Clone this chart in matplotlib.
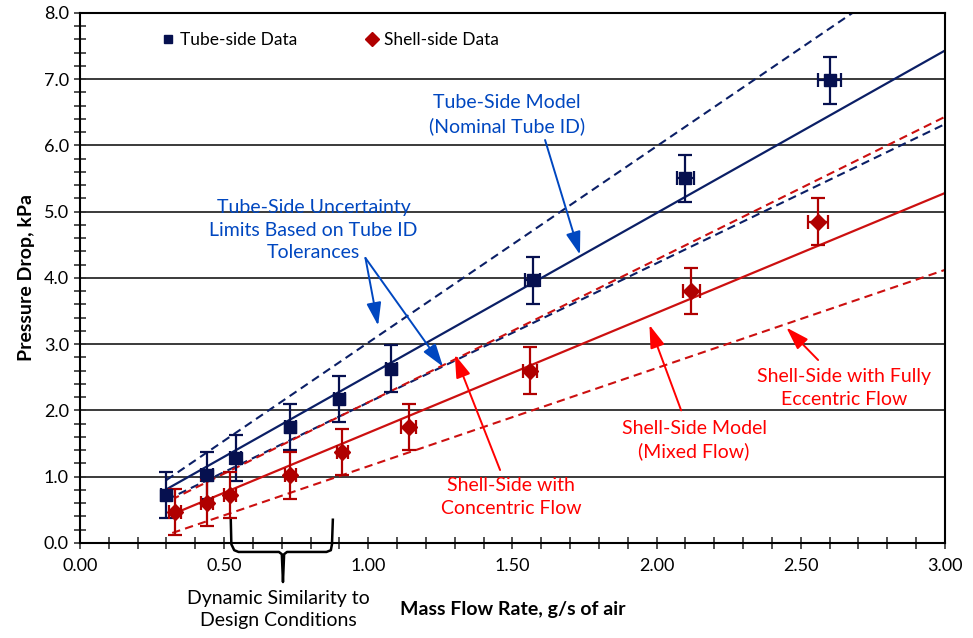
import matplotlib.pyplot as plt
import numpy as np
from matplotlib.ticker import MultipleLocator, FormatStrFormatter

plt.rcParams['font.family'] = ['Lato', 'DejaVu Sans']

# measured data
tube_x = [0.30, 0.44, 0.54, 0.73, 0.90, 1.08, 1.57, 2.10, 2.60]
tube_y = [0.72, 1.02, 1.28, 1.75, 2.17, 2.63, 3.96, 5.50, 6.98]
tube_xerr = [0.02, 0.02, 0.02, 0.02, 0.02, 0.02, 0.025, 0.03, 0.04]
tube_yerr = [0.35, 0.35, 0.35, 0.35, 0.35, 0.35, 0.35, 0.35, 0.35]

shell_x = [0.33, 0.44, 0.52, 0.73, 0.91, 1.14, 1.56, 2.12, 2.56]
shell_y = [0.47, 0.60, 0.72, 1.02, 1.37, 1.75, 2.60, 3.80, 4.85]
shell_xerr = [0.02, 0.02, 0.02, 0.02, 0.02, 0.025, 0.025, 0.03, 0.035]
shell_yerr = [0.35, 0.35, 0.35, 0.35, 0.35, 0.35, 0.35, 0.35, 0.35]

# model lines (end points)
tube_model_x = [0.30, 3.00]
tube_model_y = [0.81, 7.43]
tube_hi_x = [0.30, 2.68]
tube_hi_y = [0.95, 8.00]
tube_lo_x = [0.30, 3.00]
tube_lo_y = [0.65, 6.32]

shell_model_x = [0.33, 3.00]
shell_model_y = [0.45, 5.28]
shell_conc_x = [0.33, 3.00]
shell_conc_y = [0.68, 6.43]
shell_ecc_x = [0.32, 3.00]
shell_ecc_y = [0.15, 4.12]

navy = '#0B1F66'
navy_mk = '#06104F'
red_line = '#CC1010'
red_mk = '#B00000'
blue_txt = '#0047C0'
red_txt = '#FF0000'

fig = plt.figure(figsize=(9.73, 6.38), dpi=100)
ax = fig.add_axes([0.0822, 0.149, 0.889, 0.831])

ax.set_xlim(0, 3)
ax.set_ylim(0, 8)
ax.yaxis.grid(True, color='#3a3a3a', linewidth=1.4)
ax.set_axisbelow(True)

ax.plot(tube_hi_x, tube_hi_y, color=navy, lw=1.5, ls=(0, (4, 2.5)))
ax.plot(tube_lo_x, tube_lo_y, color=navy, lw=1.5, ls=(0, (4, 2.5)))
ax.plot(shell_conc_x, shell_conc_y, color=red_line, lw=1.5, ls=(2, (4, 2.5)))
ax.plot(shell_ecc_x, shell_ecc_y, color=red_line, lw=1.5, ls=(0, (4, 2.5)))
ax.plot(tube_model_x, tube_model_y, color=navy, lw=1.6)
ax.plot(shell_model_x, shell_model_y, color=red_line, lw=1.6)

ax.errorbar(tube_x, tube_y, xerr=tube_xerr, yerr=tube_yerr, fmt='s', color=navy_mk,
            ms=8, capsize=5, elinewidth=1.6, capthick=1.6, label='Tube-side Data', zorder=5)
ax.errorbar(shell_x, shell_y, xerr=shell_xerr, yerr=shell_yerr, fmt='D', color=red_mk,
            ms=8.5, capsize=5, elinewidth=1.6, capthick=1.6, label='Shell-side Data', zorder=5)

h, l = ax.get_legend_handles_labels()
h = [hh[0] for hh in h]
ax.legend(h, l, ncol=2, loc='center left', bbox_to_anchor=(0.095, 0.949), frameon=False,
          fontsize=12.5, handlelength=0.7, handletextpad=0.3, columnspacing=4.0,
          borderpad=0, borderaxespad=0, markerscale=0.8)

ax.xaxis.set_major_locator(MultipleLocator(0.5))
ax.xaxis.set_minor_locator(MultipleLocator(0.1))
ax.yaxis.set_major_locator(MultipleLocator(1))
ax.yaxis.set_minor_locator(MultipleLocator(0.2))
ax.xaxis.set_major_formatter(FormatStrFormatter('%.2f'))
ax.yaxis.set_major_formatter(FormatStrFormatter('%.1f'))
ax.tick_params(which='both', direction='inout', length=9, width=1.2, labelsize=13, color='#333333')
ax.tick_params(axis='x', which='major', pad=6)
for s in ax.spines.values():
    s.set_linewidth(1.5)

ax.set_xlabel('Mass Flow Rate, g/s of air', fontsize=14, fontweight='bold', labelpad=20)
ax.set_ylabel('Pressure Drop, kPa', fontsize=14, fontweight='bold', labelpad=6)

arrow_blue = dict(arrowstyle='-|>,head_length=1.4,head_width=0.45', color=blue_txt, lw=1.4,
                  shrinkA=0, shrinkB=0)
arrow_red = dict(arrowstyle='-|>,head_length=1.4,head_width=0.45', color=red_txt, lw=1.4,
                 shrinkA=0, shrinkB=0)
txt = dict(ha='center', va='center', fontsize=14, linespacing=1.4)

ax.text(1.48, 6.46, 'Tube-Side Model\n(Nominal Tube ID)', color=blue_txt, **txt)
ax.annotate('', xy=(1.734, 4.35), xytext=(1.613, 6.08), arrowprops=arrow_blue)

ax.text(0.81, 4.72, 'Tube-Side Uncertainty\nLimits Based on Tube ID\nTolerances', color=blue_txt, **txt)
ax.annotate('', xy=(1.034, 3.28), xytext=(0.99, 4.30), arrowprops=arrow_blue)
ax.annotate('', xy=(1.259, 2.66), xytext=(0.99, 4.30), arrowprops=arrow_blue)

ax.text(2.13, 1.55, 'Shell-Side Model\n(Mixed Flow)', color=red_txt, **txt)
ax.annotate('', xy=(1.975, 3.29), xytext=(2.085, 2.0), arrowprops=arrow_red)

ax.text(1.495, 0.69, 'Shell-Side with\nConcentric Flow', color=red_txt, **txt)
ax.annotate('', xy=(1.30, 2.84), xytext=(1.457, 1.10), arrowprops=arrow_red)

ax.text(2.65, 2.34, 'Shell-Side with Fully\nEccentric Flow', color=red_txt, **txt)
ax.annotate('', xy=(2.45, 3.25), xytext=(2.56, 2.76), arrowprops=arrow_red)

# curly bracket under the axis
bx = [0.523, 0.525, 0.535, 0.55, 0.69, 0.700, 0.704, 0.708, 0.718, 0.855, 0.87, 0.874, 0.877]
by = [0.35, -0.02, -0.11, -0.136, -0.136, -0.17, -0.59, -0.17, -0.136, -0.136, -0.11, -0.02, 0.35]
ax.plot(bx, by, color='black', lw=1.8, clip_on=False, solid_joinstyle='round')
ax.text(0.687, -1.0, 'Dynamic Similarity to\nDesign Conditions', ha='center', va='center',
        fontsize=14, linespacing=1.35, clip_on=False)

fig.savefig('out.png', dpi=100)
